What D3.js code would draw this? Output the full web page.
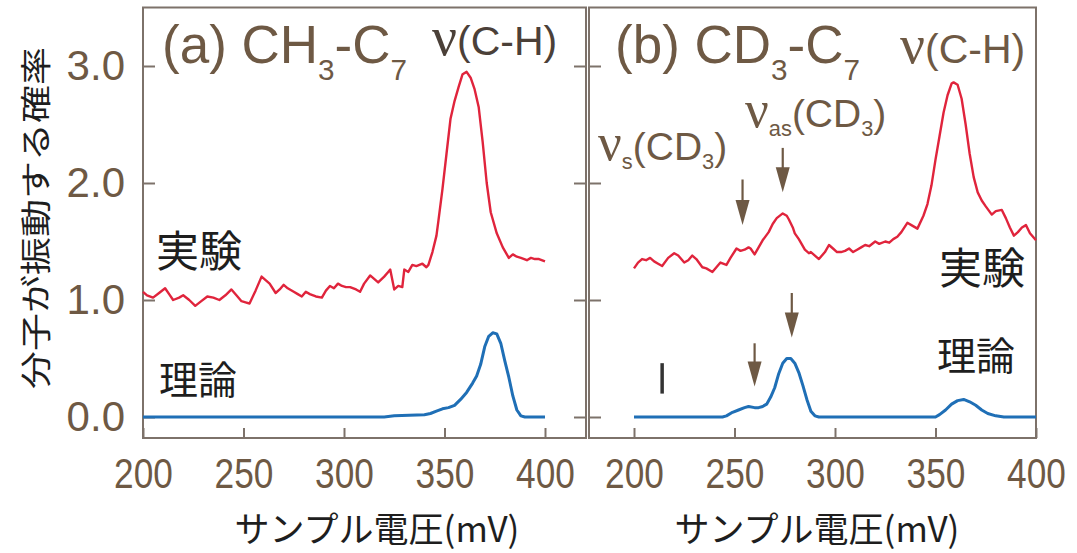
<!DOCTYPE html>
<html>
<head>
<meta charset="utf-8">
<script src="https://cdn.jsdelivr.net/npm/d3@7"></script>
<style>
  body { margin: 0; background: #fff; }
  svg { display: block; }
</style>
</head>
<body>
<div id="chart"></div>
<script>
var width = 1077;
var height = 553;

// axis ticks
var tickMV = [200, 250, 300, 350, 400];
var tickP = [0, 1, 2, 3];

// (a) CH3-C7 : experiment (red) and theory (blue)
var aExpMV = [200,202,205,208,211,213,215,218,220,223,226,229,232,235,238,241,244,247,249,251,253,256,259,261,263,266,268,270,272,275,277,279,281,283,286,289,291,293,295,297,299,301,303,306,308,310,313,315,317,320,322,323,325,327,329,330,332,334,336,339,341,342,344,346,347,349,351,353,355,357,359,361,363,365,367,369,371,373,376,379,382,384,386,388,391,393,395,397,400];
var aExpP  = [1.07,1.04,1.02,1.06,1.10,1.05,1.00,1.02,1.04,1.00,0.95,0.99,1.03,1.02,1.00,1.04,1.09,1.03,0.99,0.98,0.97,1.08,1.20,1.17,1.14,1.06,1.09,1.13,1.10,1.07,1.05,1.03,1.07,1.05,1.03,1.02,1.08,1.12,1.10,1.14,1.12,1.11,1.11,1.09,1.07,1.14,1.21,1.18,1.15,1.20,1.24,1.26,1.09,1.12,1.11,1.26,1.24,1.30,1.29,1.31,1.28,1.30,1.41,1.55,1.68,1.95,2.25,2.55,2.70,2.82,2.93,2.95,2.90,2.80,2.65,2.35,2.00,1.75,1.57,1.45,1.36,1.39,1.37,1.36,1.34,1.36,1.35,1.35,1.33];
var aThMV = [200,320,325,340,343,346,349,352,355,358,361,364,366,368,370,372,374,376,378,380,382,384,386,388,390,400];
var aThP  = [0,0,0.01,0.02,0.03,0.05,0.07,0.08,0.10,0.15,0.21,0.29,0.35,0.45,0.60,0.69,0.72,0.71,0.63,0.48,0.34,0.18,0.06,0.01,0,0];

// (b) CD3-C7 : experiment (red) and theory (blue)
var bExpMV = [200,202,204,206,208,210,212,214,217,220,222,225,227,229,231,234,236,239,241,243,246,248,251,253,255,257,258,260,262,264,267,269,271,274,276,277,279,280,282,285,287,288,290,292,295,297,299,301,303,305,307,309,311,313,315,317,320,322,325,327,329,331,333,336,338,341,344,346,348,350,352,354,356,358,359,361,363,365,367,369,371,373,375,378,380,383,385,387,389,391,393,395,397,400];
var bExpP  = [1.27,1.32,1.35,1.34,1.36,1.33,1.31,1.29,1.36,1.40,1.38,1.32,1.34,1.38,1.35,1.28,1.27,1.24,1.28,1.32,1.30,1.36,1.44,1.42,1.43,1.45,1.44,1.39,1.45,1.51,1.58,1.65,1.70,1.74,1.72,1.69,1.62,1.57,1.52,1.43,1.40,1.41,1.38,1.35,1.41,1.47,1.44,1.41,1.41,1.42,1.44,1.41,1.43,1.45,1.47,1.46,1.50,1.48,1.50,1.49,1.52,1.54,1.58,1.66,1.64,1.61,1.72,1.82,1.98,2.20,2.40,2.60,2.75,2.85,2.86,2.84,2.72,2.50,2.25,2.05,1.92,1.85,1.80,1.73,1.76,1.77,1.70,1.62,1.55,1.58,1.62,1.64,1.57,1.51];
var bThMV = [200,244,246,249,252,255,257,260,262,264,266,268,270,272,274,276,278,280,282,284,286,288,290,292,350,352,355,358,361,364,367,370,373,376,380,384,400];
var bThP  = [0,0,0.01,0.04,0.06,0.08,0.09,0.08,0.08,0.09,0.11,0.17,0.25,0.37,0.46,0.50,0.50,0.46,0.38,0.27,0.15,0.05,0.01,0,0,0.02,0.06,0.11,0.14,0.15,0.13,0.10,0.06,0.03,0.01,0,0];

// arrows in (b): [mV, tail value, tip value]
var bArrows = [[254, 2.03, 1.64], [274, 2.30, 1.92], [260, 0.63, 0.26], [278.5, 1.06, 0.68]];
// small bar in (b) theory: [mV, from, to]
var bBar = [214, 0.20, 0.46];

var brown = "#6e5944";
var frameCol = "#7d726a";
var red = "#e0243c";
var blue = "#1f6fb6";
var sans = "Arial, 'Liberation Sans', Helvetica, sans-serif";
var cjk = "'Noto Sans CJK JP', 'Noto Sans', sans-serif";

var svg = d3.select("#chart").append("svg")
  .attr("width", width)
  .attr("height", height);

var y = d3.scaleLinear().domain([0, 3]).range([417, 66]);
var xA = d3.scaleLinear().domain([200, 400]).range([143, 545]);
var xB = d3.scaleLinear().domain([200, 400]).range([634, 1036]);

var yTop = y(3.5), yBot = 438;

var line = function(xs, ys, x){
  return d3.line().x(function(d){ return x(d); }).y(function(d, i){ return y(ys[i]); })(xs);
};

var drawPanel = function(x, left, right, opts){
  var g = svg.append("g");
  g.append("rect")
    .attr("x", left).attr("y", yTop)
    .attr("width", right - left).attr("height", yBot - yTop)
    .attr("fill", "none").attr("stroke", frameCol).attr("stroke-width", 2);

  var xa = g.append("g")
    .attr("transform", "translate(0," + yBot + ")")
    .call(d3.axisBottom(x).tickValues(tickMV).tickSize(-10).tickPadding(20));
  xa.select(".domain").remove();
  xa.selectAll("line").attr("stroke", frameCol).attr("stroke-width", 2);
  xa.selectAll("text")
    .attr("fill", brown).attr("font-size", 42).attr("font-family", sans)
    .attr("transform", "scale(0.84,1)");

  var ya = g.append("g")
    .attr("transform", "translate(" + left + ",0)")
    .call(d3.axisLeft(y).tickValues(tickP).tickSize(-12).tickPadding(18)
      .tickFormat(opts.labels ? d3.format(".1f") : function(){ return ""; }));
  ya.select(".domain").remove();
  ya.selectAll("line").attr("stroke", frameCol).attr("stroke-width", 2);
  ya.selectAll("text")
    .attr("fill", brown).attr("font-size", 42).attr("font-family", sans);

  if (opts.rightTicks) {
    var yr = g.append("g")
      .attr("transform", "translate(" + right + ",0)")
      .call(d3.axisRight(y).tickValues(tickP).tickSize(-12).tickFormat(function(){ return ""; }));
    yr.select(".domain").remove();
    yr.selectAll("line").attr("stroke", frameCol).attr("stroke-width", 2);
  }

  svg.append("path").attr("d", line(opts.exp[0], opts.exp[1], x))
    .attr("fill", "none").attr("stroke", red).attr("stroke-width", 2.4)
    .attr("stroke-linejoin", "round");
  svg.append("path").attr("d", line(opts.th[0], opts.th[1], x))
    .attr("fill", "none").attr("stroke", blue).attr("stroke-width", 3)
    .attr("stroke-linejoin", "round");
};

drawPanel(xA, 143, 586, {labels: true, rightTicks: true, exp: [aExpMV, aExpP], th: [aThMV, aThP]});
drawPanel(xB, 589, 1036, {labels: false, rightTicks: false, exp: [bExpMV, bExpP], th: [bThMV, bThP]});

// arrows
bArrows.forEach(function(a){
  var ax = xB(a[0]), y0 = y(a[1]), y1 = y(a[2]);
  svg.append("line").attr("x1", ax).attr("x2", ax).attr("y1", y0).attr("y2", y1 - 20)
    .attr("stroke", brown).attr("stroke-width", 2.2);
  svg.append("path")
    .attr("d", "M" + (ax - 7) + "," + (y1 - 25) + "L" + (ax + 7) + "," + (y1 - 25) + "L" + ax + "," + y1 + "Z")
    .attr("fill", brown);
});
svg.append("line")
  .attr("x1", xB(bBar[0])).attr("x2", xB(bBar[0]))
  .attr("y1", y(bBar[1])).attr("y2", y(bBar[2]))
  .attr("stroke", "#333").attr("stroke-width", 3.5);

// labels with subscripts: parts = [text, kind]  kind: n normal, s sub, g greek
var richText = function(px, py, size, color, subShift, parts){
  var t = svg.append("text").attr("x", px).attr("y", py)
    .attr("fill", color).attr("font-family", sans).attr("font-size", size);
  var shift = 0;
  parts.forEach(function(p){
    var want = p[1] === "s" ? size * subShift : 0;
    var ts = t.append("tspan").text(p[0]).attr("dy", want - shift);
    shift = want;
    if (p[1] === "s") ts.attr("font-size", size * 0.56);
    if (p[1] === "g") ts.attr("font-family", "'Liberation Serif', 'DejaVu Serif', serif").attr("font-size", size * 1.35);
  });
  return t;
};

richText(162, 63, 53, brown, 0.33, [["(a) CH", "n"], ["3", "s"], ["-C", "n"], ["7", "s"]]);
richText(432, 55, 41, "#4b4038", 0.2, [["ν", "g"], ["(C-H)", "n"]]);
richText(615, 63, 53, brown, 0.33, [["(b) CD", "n"], ["3", "s"], ["-C", "n"], ["7", "s"]]);
richText(900, 63, 41, brown, 0.2, [["ν", "g"], ["(C-H)", "n"]]);
richText(745, 127, 39, brown, 0.22, [["ν", "g"], ["as", "s"], ["(CD", "n"], ["3", "s"], [")", "n"]]);
richText(598, 160, 39, brown, 0.22, [["ν", "g"], ["s", "s"], ["(CD", "n"], ["3", "s"], [")", "n"]]);

var cjkText = function(px, py, size, s){
  svg.append("text").attr("x", px).attr("y", py)
    .attr("font-family", cjk).attr("font-size", size).attr("fill", "#1e1e1e").text(s);
};
cjkText(156, 267, 43, "実験");
cjkText(159, 394, 39, "理論");
cjkText(939, 284, 43, "実験");
cjkText(937, 370, 39, "理論");

// axis titles
[377, 817].forEach(function(cx){
  svg.append("text").attr("x", cx).attr("y", 542)
    .attr("text-anchor", "middle").attr("font-family", cjk).attr("font-size", 35)
    .attr("fill", "#1e1e1e").text("サンプル電圧(mV)");
});
svg.append("text")
  .attr("transform", "translate(47,218) rotate(-90) scale(1,0.8)")
  .attr("text-anchor", "middle").attr("font-family", cjk).attr("font-size", 38)
  .attr("fill", "#1e1e1e").text("分子が振動する確率");
</script>
</body>
</html>
